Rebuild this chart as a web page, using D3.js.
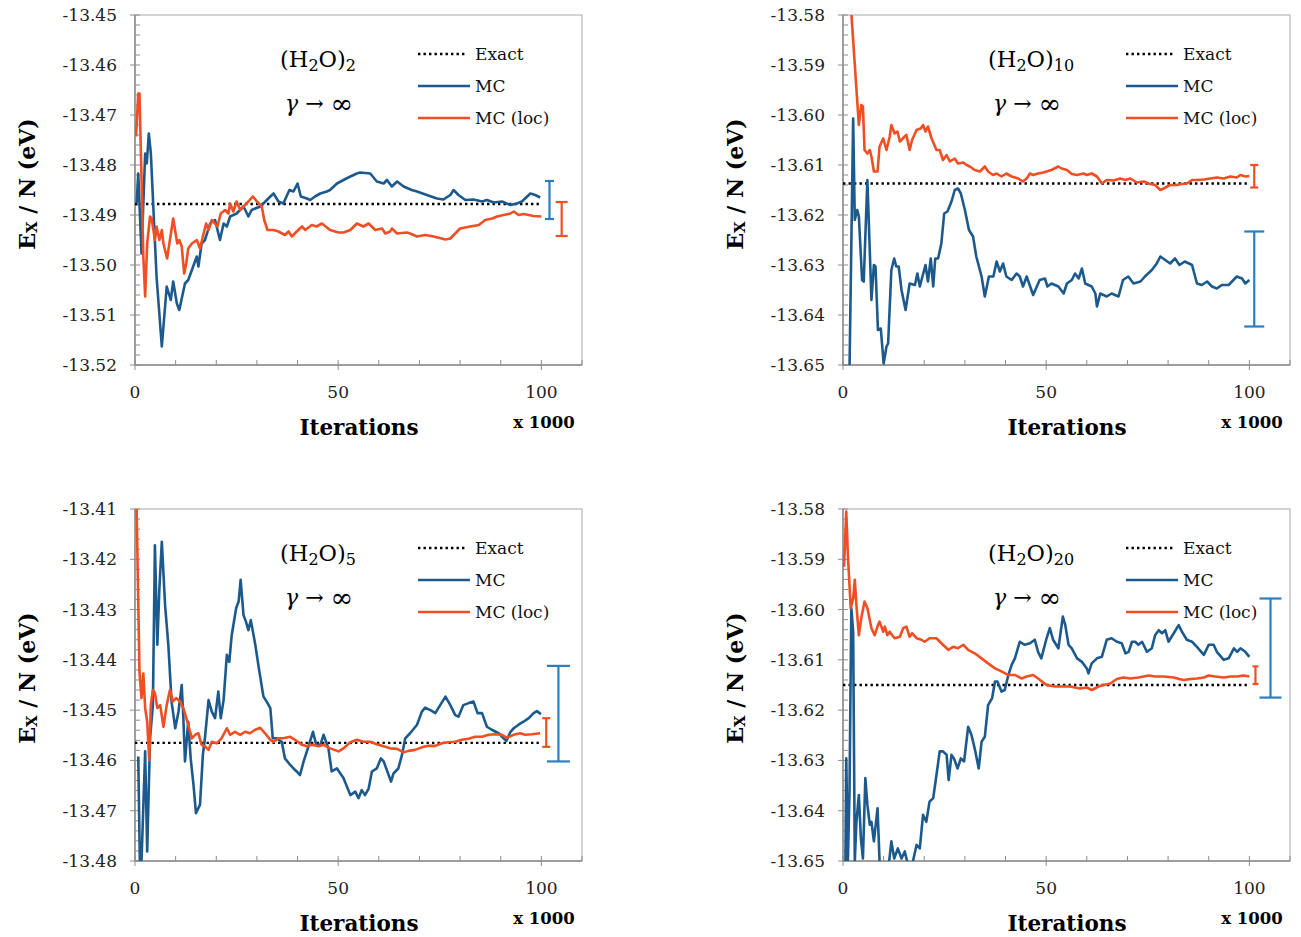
<!DOCTYPE html>
<html><head><meta charset="utf-8">
<script src="https://cdn.jsdelivr.net/npm/d3@7"></script>
<style>body{margin:0;background:#fff;} svg{display:block;font-family:"DejaVu Serif",serif;}</style>
</head><body><svg id="c" width="1301" height="937"></svg>
<script>
// ---------------- DATA ----------------
const xTickLabels = [0, 50, 100];
const xMinorTicks = [0,10,20,30,40,50,60,70,80,90,100,110];
const legendLabels = ["Exact", "MC", "MC (loc)"];
const clusterSizes = ["2", "10", "5", "20"];

const yRange2 = [-13.52, -13.45];
const yRange10 = [-13.65, -13.58];
const yRange5 = [-13.48, -13.41];
const yRange20 = [-13.65, -13.58];

const exactValues = [-13.4878, -13.6137, -13.4565, -13.6150];

// error bars: [x, low, high]
const errMC = [[102, -13.4908, -13.4832],[101.2, -13.6423, -13.6233],[104.2, -13.4602, -13.4412],[105.2, -13.6175, -13.5978]];
const errLoc = [[105, -13.4942, -13.4874],[101.2, -13.6145, -13.6100],[101.2, -13.4573, -13.4516],[101.5, -13.6148, -13.6113]];

const mc2 = [[0.4,-13.4877],[0.8,-13.4817],[1.6,-13.4977],[2.5,-13.4777],[2.9,-13.4797],[3.4,-13.4737],[3.9,-13.4777],[5.3,-13.5023],[6.6,-13.5163],[7.8,-13.5043],[8.8,-13.5070],[9.4,-13.5033],[10.3,-13.5077],[10.9,-13.5090],[12.3,-13.5037],[13.1,-13.5030],[14.0,-13.5010],[15.2,-13.4983],[15.6,-13.5003],[16.4,-13.4957],[17.2,-13.4950],[18.5,-13.4917],[19.7,-13.4910],[20.9,-13.4950],[21.8,-13.4917],[22.6,-13.4923],[23.4,-13.4903],[25.0,-13.4897],[26.7,-13.4883],[27.9,-13.4903],[28.7,-13.4890],[30.8,-13.4883],[31.6,-13.4877],[33.3,-13.4863],[34.1,-13.4857],[35.3,-13.4873],[36.5,-13.4877],[38.0,-13.4850],[39.0,-13.4853],[40.0,-13.4837],[40.8,-13.4863],[42.3,-13.4867],[43.1,-13.4870],[44.3,-13.4863],[45.6,-13.4857],[47.2,-13.4853],[48.0,-13.4850],[49.7,-13.4837],[51.3,-13.4830],[53.0,-13.4823],[54.6,-13.4817],[55.4,-13.4815],[57.9,-13.4817],[59.5,-13.4833],[61.2,-13.4837],[62.0,-13.4830],[63.2,-13.4843],[64.5,-13.4833],[66.1,-13.4843],[68.1,-13.4850],[69.4,-13.4853],[71.8,-13.4860],[74.3,-13.4867],[75.9,-13.4869],[77.6,-13.4860],[78.4,-13.4850],[79.6,-13.4860],[81.3,-13.4870],[83.3,-13.4869],[85.4,-13.4873],[86.6,-13.4870],[88.3,-13.4875],[90.3,-13.4873],[92.4,-13.4880],[94.0,-13.4877],[95.2,-13.4873],[97.3,-13.4857],[98.5,-13.4860],[99.7,-13.4865]];

const loc2 = [[0.25,-13.4743],[0.8,-13.4657],[1.1,-13.4657],[1.4,-13.4757],[2.05,-13.4983],[2.5,-13.5063],[3.0,-13.4957],[3.7,-13.4903],[4.1,-13.4907],[4.9,-13.4950],[5.3,-13.4923],[6.0,-13.4950],[6.6,-13.4930],[7.0,-13.4957],[7.9,-13.4987],[9.4,-13.4907],[10.4,-13.4957],[10.9,-13.4950],[11.5,-13.4963],[12.1,-13.5017],[12.6,-13.4997],[13.1,-13.4967],[14.0,-13.4957],[15.2,-13.4950],[16.0,-13.4967],[16.7,-13.4943],[17.5,-13.4917],[18.1,-13.4930],[18.9,-13.4910],[20.3,-13.4923],[21.1,-13.4897],[22.2,-13.4890],[23.0,-13.4897],[23.4,-13.4877],[24.2,-13.4893],[25.0,-13.4873],[25.9,-13.4890],[26.7,-13.4883],[27.9,-13.4873],[29.0,-13.4863],[30.0,-13.4873],[31.2,-13.4883],[31.8,-13.4910],[32.6,-13.4930],[34.1,-13.4930],[35.3,-13.4933],[36.9,-13.4940],[37.8,-13.4933],[38.6,-13.4943],[39.8,-13.4933],[41.1,-13.4923],[41.9,-13.4930],[43.5,-13.4920],[44.7,-13.4923],[46.0,-13.4917],[48.0,-13.4930],[50.1,-13.4935],[51.3,-13.4935],[53.0,-13.4930],[54.6,-13.4917],[56.2,-13.4923],[57.5,-13.4917],[59.1,-13.4930],[60.8,-13.4927],[61.6,-13.4937],[62.8,-13.4933],[63.2,-13.4927],[64.5,-13.4937],[66.9,-13.4935],[67.7,-13.4937],[69.4,-13.4943],[71.4,-13.4940],[73.5,-13.4943],[76.4,-13.4949],[77.6,-13.4947],[78.8,-13.4937],[80.0,-13.4927],[82.5,-13.4923],[84.6,-13.4920],[86.2,-13.4910],[87.9,-13.4907],[89.1,-13.4903],[90.7,-13.4900],[92.4,-13.4897],[93.2,-13.4893],[94.4,-13.4900],[95.6,-13.4898],[96.9,-13.4900],[98.1,-13.4902],[100.0,-13.4903]];

const mc10 = [[1.6,-13.6510],[2.5,-13.6007],[2.9,-13.6210],[3.5,-13.6190],[3.9,-13.6203],[4.7,-13.6330],[5.1,-13.6333],[6.0,-13.6130],[7.0,-13.6370],[7.6,-13.6300],[8.0,-13.6303],[8.6,-13.6430],[9.3,-13.6427],[10.0,-13.6497],[10.7,-13.6463],[11.1,-13.6457],[11.9,-13.6310],[12.6,-13.6287],[13.1,-13.6303],[13.7,-13.6303],[14.4,-13.6350],[15.4,-13.6390],[16.4,-13.6337],[17.7,-13.6340],[18.3,-13.6317],[18.9,-13.6343],[20.3,-13.6300],[20.9,-13.6333],[21.6,-13.6287],[22.2,-13.6343],[22.7,-13.6287],[23.4,-13.6287],[24.2,-13.6257],[24.9,-13.6197],[25.7,-13.6193],[26.7,-13.6173],[27.5,-13.6150],[28.3,-13.6147],[29.0,-13.6157],[30.0,-13.6190],[31.0,-13.6230],[32.0,-13.6243],[32.8,-13.6283],[34.1,-13.6323],[34.9,-13.6363],[35.9,-13.6323],[37.0,-13.6323],[37.8,-13.6293],[38.6,-13.6313],[39.4,-13.6297],[40.2,-13.6323],[41.5,-13.6330],[42.7,-13.6317],[43.5,-13.6323],[44.3,-13.6343],[45.2,-13.6323],[46.8,-13.6360],[48.4,-13.6330],[49.7,-13.6327],[50.3,-13.6343],[51.3,-13.6337],[53.0,-13.6343],[54.3,-13.6357],[55.1,-13.6337],[56.3,-13.6330],[57.1,-13.6317],[58.0,-13.6327],[58.8,-13.6307],[59.6,-13.6337],[61.2,-13.6343],[62.1,-13.6357],[62.5,-13.6383],[63.3,-13.6357],[64.9,-13.6363],[66.1,-13.6357],[67.8,-13.6363],[68.9,-13.6330],[70.2,-13.6323],[71.5,-13.6337],[73.2,-13.6333],[74.3,-13.6323],[76.0,-13.6310],[77.2,-13.6297],[78.1,-13.6283],[79.3,-13.6290],[80.5,-13.6297],[81.7,-13.6287],[82.8,-13.6300],[84.1,-13.6293],[85.9,-13.6300],[87.1,-13.6337],[88.3,-13.6340],[89.6,-13.6333],[90.8,-13.6343],[92.0,-13.6347],[93.2,-13.6340],[94.9,-13.6340],[96.9,-13.6323],[98.2,-13.6327],[99.0,-13.6337],[100.0,-13.6330]];

const loc10 = [[2.0,-13.5790],[3.9,-13.6020],[4.5,-13.5980],[4.9,-13.5983],[5.3,-13.6070],[6.0,-13.6077],[6.6,-13.6070],[7.0,-13.6083],[7.6,-13.6113],[8.5,-13.6113],[9.0,-13.6063],[9.9,-13.6047],[10.7,-13.6070],[11.5,-13.6043],[11.9,-13.6020],[12.7,-13.6037],[13.4,-13.6033],[14.0,-13.6053],[15.2,-13.6043],[15.6,-13.6040],[16.4,-13.6070],[17.0,-13.6050],[18.1,-13.6030],[19.1,-13.6027],[19.7,-13.6020],[20.3,-13.6033],[20.9,-13.6023],[21.8,-13.6047],[23.0,-13.6070],[23.8,-13.6070],[24.6,-13.6090],[25.5,-13.6080],[26.3,-13.6093],[27.5,-13.6087],[28.3,-13.6097],[29.6,-13.6095],[30.4,-13.6100],[31.2,-13.6103],[32.4,-13.6110],[33.7,-13.6113],[34.9,-13.6103],[35.7,-13.6113],[36.9,-13.6120],[37.8,-13.6117],[39.0,-13.6123],[40.2,-13.6117],[41.5,-13.6123],[43.1,-13.6127],[44.3,-13.6133],[45.2,-13.6127],[46.0,-13.6117],[46.8,-13.6120],[48.0,-13.6117],[49.3,-13.6115],[51.3,-13.6110],[53.0,-13.6103],[53.8,-13.6107],[55.1,-13.6110],[56.3,-13.6118],[57.6,-13.6120],[59.2,-13.6117],[60.0,-13.6120],[61.2,-13.6117],[62.5,-13.6123],[63.7,-13.6137],[64.9,-13.6130],[66.6,-13.6131],[68.2,-13.6127],[69.5,-13.6130],[70.7,-13.6127],[72.3,-13.6135],[74.0,-13.6133],[75.6,-13.6138],[76.8,-13.6140],[78.1,-13.6150],[78.9,-13.6147],[80.5,-13.6140],[82.2,-13.6140],[83.4,-13.6138],[84.6,-13.6137],[85.9,-13.6130],[87.1,-13.6130],[88.8,-13.6129],[90.4,-13.6127],[92.0,-13.6125],[93.7,-13.6127],[95.3,-13.6123],[96.9,-13.6125],[97.8,-13.6120],[99.0,-13.6123],[100.0,-13.6122]];

const mc5 = [[0.8,-13.4592],[1.2,-13.4808],[1.6,-13.4801],[2.5,-13.4582],[3.0,-13.4781],[3.7,-13.4556],[4.4,-13.4490],[4.9,-13.4172],[5.5,-13.4370],[6.0,-13.4258],[6.6,-13.4165],[7.4,-13.4291],[8.2,-13.4370],[9.0,-13.4483],[9.9,-13.4536],[10.7,-13.4503],[11.5,-13.4450],[11.9,-13.4516],[12.3,-13.4602],[13.1,-13.4523],[13.7,-13.4596],[14.4,-13.4649],[15.0,-13.4705],[16.0,-13.4688],[16.7,-13.4589],[17.2,-13.4556],[18.1,-13.4480],[18.9,-13.4503],[19.7,-13.4516],[20.5,-13.4463],[21.1,-13.4516],[21.8,-13.4480],[22.6,-13.4390],[23.2,-13.4404],[23.8,-13.4351],[24.9,-13.4297],[25.5,-13.4284],[26.0,-13.4241],[26.7,-13.4311],[27.3,-13.4324],[27.9,-13.4341],[28.5,-13.4321],[29.6,-13.4370],[30.6,-13.4423],[31.6,-13.4473],[32.4,-13.4483],[33.3,-13.4496],[33.9,-13.4556],[34.9,-13.4556],[36.1,-13.4563],[36.9,-13.4596],[38.2,-13.4609],[39.0,-13.4616],[39.8,-13.4622],[40.6,-13.4629],[41.5,-13.4602],[42.3,-13.4582],[43.8,-13.4543],[44.6,-13.4569],[45.6,-13.4569],[46.4,-13.4549],[47.6,-13.4576],[48.4,-13.4622],[49.7,-13.4616],[51.3,-13.4635],[53.0,-13.4669],[54.2,-13.4662],[55.0,-13.4675],[55.8,-13.4659],[56.6,-13.4669],[57.5,-13.4656],[58.3,-13.4622],[59.5,-13.4616],[60.5,-13.4596],[61.2,-13.4602],[62.1,-13.4622],[63.0,-13.4642],[63.6,-13.4626],[64.8,-13.4616],[65.7,-13.4589],[66.5,-13.4556],[67.7,-13.4546],[69.4,-13.4529],[70.6,-13.4503],[71.4,-13.4495],[72.7,-13.4500],[73.9,-13.4506],[75.1,-13.4490],[76.4,-13.4473],[77.6,-13.4490],[78.8,-13.4510],[79.6,-13.4513],[80.8,-13.4490],[82.1,-13.4486],[83.3,-13.4483],[84.3,-13.4506],[85.4,-13.4506],[86.6,-13.4533],[87.8,-13.4539],[89.5,-13.4546],[90.7,-13.4556],[91.4,-13.4561],[92.4,-13.4543],[93.2,-13.4536],[94.4,-13.4529],[95.6,-13.4523],[96.9,-13.4516],[98.1,-13.4506],[98.9,-13.4502],[99.9,-13.4508]];

const loc5 = [[0.4,-13.4100],[1.1,-13.4423],[1.6,-13.4476],[2.05,-13.4427],[2.5,-13.4496],[3.0,-13.4523],[3.5,-13.4599],[3.9,-13.4490],[4.4,-13.4460],[4.9,-13.4466],[5.5,-13.4496],[6.2,-13.4490],[7.0,-13.4533],[7.8,-13.4490],[8.6,-13.4460],[9.3,-13.4483],[10.1,-13.4476],[11.1,-13.4483],[11.9,-13.4496],[13.1,-13.4529],[14.0,-13.4556],[14.8,-13.4549],[15.6,-13.4546],[16.4,-13.4569],[17.2,-13.4572],[18.1,-13.4579],[18.9,-13.4563],[20.1,-13.4566],[21.3,-13.4556],[22.6,-13.4536],[23.4,-13.4549],[24.6,-13.4543],[25.9,-13.4549],[27.1,-13.4543],[28.3,-13.4546],[29.6,-13.4539],[30.8,-13.4535],[32.0,-13.4546],[33.3,-13.4559],[34.1,-13.4563],[35.3,-13.4556],[36.5,-13.4556],[38.2,-13.4553],[39.4,-13.4559],[41.1,-13.4569],[42.3,-13.4572],[43.5,-13.4569],[45.2,-13.4572],[46.4,-13.4569],[48.0,-13.4576],[50.1,-13.4582],[51.3,-13.4576],[53.0,-13.4564],[54.6,-13.4559],[56.2,-13.4563],[57.9,-13.4563],[59.5,-13.4568],[61.2,-13.4572],[62.8,-13.4576],[64.5,-13.4577],[66.1,-13.4584],[67.3,-13.4581],[68.9,-13.4579],[70.6,-13.4574],[72.2,-13.4571],[73.9,-13.4571],[75.5,-13.4566],[77.1,-13.4564],[78.8,-13.4563],[80.4,-13.4559],[82.1,-13.4557],[83.7,-13.4553],[85.4,-13.4553],[87.0,-13.4549],[88.7,-13.4548],[90.3,-13.4549],[91.5,-13.4555],[93.2,-13.4549],[94.8,-13.4546],[96.0,-13.4549],[97.7,-13.4548],[99.7,-13.4546]];

const mc20 = [[0.6,-13.6501],[0.8,-13.6296],[1.2,-13.6501],[1.6,-13.6362],[2.05,-13.5997],[2.5,-13.6044],[2.9,-13.6501],[3.3,-13.6422],[3.9,-13.6369],[4.4,-13.6455],[4.9,-13.6495],[5.5,-13.6335],[6.0,-13.6388],[6.6,-13.6428],[7.0,-13.6422],[7.6,-13.6461],[8.5,-13.6395],[9.0,-13.6501],[9.9,-13.6514],[11.1,-13.6520],[11.9,-13.6461],[12.6,-13.6495],[13.5,-13.6475],[14.4,-13.6495],[15.2,-13.6481],[16.0,-13.6508],[17.2,-13.6501],[18.1,-13.6468],[18.9,-13.6475],[19.7,-13.6408],[20.5,-13.6422],[21.3,-13.6382],[22.2,-13.6375],[23.0,-13.6329],[23.8,-13.6282],[24.6,-13.6282],[25.5,-13.6289],[26.0,-13.6339],[26.7,-13.6289],[27.3,-13.6296],[28.2,-13.6316],[29.0,-13.6296],[29.8,-13.6302],[30.8,-13.6233],[31.6,-13.6249],[32.4,-13.6276],[33.4,-13.6316],[34.1,-13.6263],[34.9,-13.6253],[35.7,-13.6190],[36.7,-13.6176],[37.4,-13.6143],[38.0,-13.6143],[39.0,-13.6163],[39.8,-13.6160],[40.6,-13.6133],[41.5,-13.6110],[42.3,-13.6097],[43.5,-13.6064],[44.7,-13.6070],[46.0,-13.6067],[47.2,-13.6060],[48.0,-13.6084],[48.8,-13.6097],[50.1,-13.6057],[50.9,-13.6037],[51.7,-13.6060],[53.0,-13.6077],[54.1,-13.6014],[54.7,-13.6031],[55.5,-13.6070],[56.3,-13.6077],[57.6,-13.6097],[58.8,-13.6104],[60.0,-13.6117],[60.4,-13.6127],[61.2,-13.6107],[62.5,-13.6097],[63.7,-13.6094],[64.9,-13.6060],[66.1,-13.6057],[67.4,-13.6064],[68.6,-13.6067],[69.5,-13.6087],[70.3,-13.6084],[71.1,-13.6064],[71.9,-13.6064],[72.7,-13.6070],[73.6,-13.6064],[74.8,-13.6084],[76.0,-13.6077],[76.8,-13.6051],[77.7,-13.6041],[78.5,-13.6047],[79.3,-13.6041],[80.1,-13.6064],[81.4,-13.6047],[82.6,-13.6031],[83.4,-13.6044],[84.6,-13.6060],[85.9,-13.6064],[87.1,-13.6074],[88.8,-13.6090],[90.0,-13.6070],[91.2,-13.6070],[92.0,-13.6084],[93.7,-13.6100],[94.9,-13.6097],[96.2,-13.6077],[97.0,-13.6084],[97.8,-13.6077],[99.0,-13.6084],[100.0,-13.6094]];

const loc20 = [[0.25,-13.5915],[0.8,-13.5805],[1.2,-13.5891],[1.9,-13.5997],[2.5,-13.5978],[2.9,-13.5941],[3.3,-13.5991],[3.9,-13.6051],[4.5,-13.6017],[5.3,-13.5984],[6.0,-13.5997],[7.0,-13.6037],[7.8,-13.6051],[8.6,-13.6031],[9.0,-13.6024],[9.9,-13.6044],[10.3,-13.6034],[10.9,-13.6051],[11.5,-13.6044],[12.1,-13.6051],[12.7,-13.6057],[14.0,-13.6054],[14.8,-13.6037],[15.6,-13.6034],[16.4,-13.6054],[17.0,-13.6047],[18.1,-13.6057],[19.3,-13.6060],[20.1,-13.6064],[21.3,-13.6057],[23.0,-13.6057],[24.2,-13.6067],[25.9,-13.6080],[27.1,-13.6074],[28.3,-13.6077],[29.6,-13.6070],[30.8,-13.6080],[32.4,-13.6087],[34.1,-13.6097],[35.7,-13.6107],[37.4,-13.6117],[39.0,-13.6123],[40.6,-13.6130],[42.3,-13.6130],[43.9,-13.6137],[45.2,-13.6133],[46.8,-13.6130],[48.0,-13.6137],[50.1,-13.6150],[52.1,-13.6153],[53.4,-13.6153],[55.9,-13.6153],[58.3,-13.6157],[60.0,-13.6155],[61.2,-13.6160],[62.9,-13.6153],[64.1,-13.6150],[65.8,-13.6147],[67.4,-13.6138],[69.0,-13.6135],[70.7,-13.6137],[72.7,-13.6135],[74.0,-13.6133],[75.2,-13.6131],[76.8,-13.6133],[78.9,-13.6133],[81.4,-13.6135],[82.7,-13.6138],[83.9,-13.6140],[85.5,-13.6138],[87.1,-13.6137],[88.8,-13.6135],[90.0,-13.6131],[91.6,-13.6133],[93.7,-13.6135],[95.3,-13.6133],[96.9,-13.6133],[98.6,-13.6131],[100.0,-13.6133]];

// ---------------- LAYOUT / STYLE ----------------
const layout = [
  {left:135, right:582, top:15, bottom:365, capMC:4.5, capLoc:6},
  {left:843, right:1290, top:15, bottom:365, capMC:10, capLoc:4},
  {left:135, right:582, top:509, bottom:861, capMC:11.5, capLoc:4},
  {left:843, right:1290, top:509, bottom:861, capMC:11, capLoc:3}
];
const COL_MC = "#1c5a8e", COL_LOC = "#f04e23", COL_ERR_MC = "#2a7fc1", AX = "#8c8c8c";
const LW = 2.6;
const seriesMC = [mc2, mc10, mc5, mc20];
const seriesLoc = [loc2, loc10, loc5, loc20];
const yRanges = [yRange2, yRange10, yRange5, yRange20];

const svg = d3.select("#c");
const fmt = d => d.toFixed(2);

layout.forEach((L, i) => {
  const g = svg.append("g");
  const x = d3.scaleLinear().domain([0, 110]).range([L.left, L.right]);
  const y = d3.scaleLinear().domain(yRanges[i]).range([L.bottom, L.top]);
  const clipId = "clip" + i;
  svg.append("clipPath").attr("id", clipId).append("rect")
    .attr("x", L.left).attr("y", L.top).attr("width", L.right - L.left).attr("height", L.bottom - L.top);

  // frame
  g.append("rect").attr("x", L.left).attr("y", L.top).attr("width", L.right - L.left).attr("height", L.bottom - L.top)
    .attr("fill", "#fff").attr("stroke", "#b8b8b8").attr("stroke-width", 1.2);

  // y axis
  const yMajor = d3.range(0, 8).map(k => yRanges[i][1] - k * 0.01);
  const yMinor = d3.range(0, 36).map(k => yRanges[i][1] - k * 0.002);
  g.append("line").attr("x1", L.left).attr("x2", L.left).attr("y1", L.top).attr("y2", L.bottom).attr("stroke", AX).attr("stroke-width", 1.5);
  g.selectAll(".ymin").data(yMinor).enter().append("line")
    .attr("x1", L.left).attr("x2", L.left + 5).attr("y1", d => y(d)).attr("y2", d => y(d)).attr("stroke", AX).attr("stroke-width", 1);
  g.selectAll(".ymaj").data(yMajor).enter().append("line")
    .attr("x1", L.left - 5).attr("x2", L.left).attr("y1", d => y(d)).attr("y2", d => y(d)).attr("stroke", AX).attr("stroke-width", 1);
  g.selectAll(".ylab").data(yMajor).enter().append("text")
    .attr("x", L.left - 18).attr("y", d => y(d)).attr("text-anchor", "end").attr("dominant-baseline", "central")
    .attr("font-size", 17).attr("fill", "#222").text(d => fmt(d));

  // x axis
  g.append("line").attr("x1", L.left).attr("x2", L.right).attr("y1", L.bottom).attr("y2", L.bottom).attr("stroke", AX).attr("stroke-width", 1.5);
  g.selectAll(".xmin").data(xMinorTicks).enter().append("line")
    .attr("x1", d => x(d)).attr("x2", d => x(d)).attr("y1", L.bottom - 5).attr("y2", L.bottom).attr("stroke", AX).attr("stroke-width", 1);
  g.selectAll(".xmaj").data(xTickLabels).enter().append("line")
    .attr("x1", d => x(d)).attr("x2", d => x(d)).attr("y1", L.bottom).attr("y2", L.bottom + 5).attr("stroke", AX).attr("stroke-width", 1);
  g.selectAll(".xlab").data(xTickLabels).enter().append("text")
    .attr("x", d => x(d)).attr("y", L.bottom + 27).attr("text-anchor", "middle").attr("dominant-baseline", "central")
    .attr("font-size", 17).attr("fill", "#222").text(d => d);

  g.append("text").attr("x", L.left + 224).attr("y", L.bottom + 62).attr("text-anchor", "middle").attr("dominant-baseline", "central")
    .attr("font-size", 21.5).attr("font-weight", "bold").text("Iterations");
  g.append("text").attr("x", L.left + 409).attr("y", L.bottom + 57).attr("text-anchor", "middle").attr("dominant-baseline", "central")
    .attr("font-size", 16.5).attr("font-weight", "bold").text("x 1000");

  // y title
  const yt = g.append("text").attr("transform", `translate(${L.left - 108},${L.top + 169}) rotate(-90)`)
    .attr("text-anchor", "middle").attr("dominant-baseline", "central").attr("font-size", 22).attr("font-weight", "bold");
  yt.append("tspan").text("E");
  yt.append("tspan").attr("font-size", 15).attr("dy", 5).text("X");
  yt.append("tspan").attr("dy", -5).text(" / N (eV)");

  // series
  const line = d3.line().x(d => x(d[0])).y(d => y(d[1]));
  const pg = g.append("g").attr("clip-path", `url(#${clipId})`);
  pg.append("line").attr("x1", x(0)).attr("x2", x(100)).attr("y1", y(exactValues[i])).attr("y2", y(exactValues[i]))
    .attr("stroke", "#000").attr("stroke-width", 2.4).attr("stroke-dasharray", "2.4,3.1");
  pg.append("path").datum(seriesMC[i]).attr("d", line).attr("fill", "none").attr("stroke", COL_MC).attr("stroke-width", LW).attr("stroke-linejoin", "round");
  pg.append("path").datum(seriesLoc[i]).attr("d", line).attr("fill", "none").attr("stroke", COL_LOC).attr("stroke-width", LW).attr("stroke-linejoin", "round");

  // error bars
  const drawErr = (e, col, cap) => {
    const eg = g.append("g").attr("stroke", col).attr("stroke-width", 2.2);
    eg.append("line").attr("x1", x(e[0])).attr("x2", x(e[0])).attr("y1", y(e[1])).attr("y2", y(e[2]));
    eg.append("line").attr("x1", x(e[0]) - cap).attr("x2", x(e[0]) + cap).attr("y1", y(e[1])).attr("y2", y(e[1]));
    eg.append("line").attr("x1", x(e[0]) - cap).attr("x2", x(e[0]) + cap).attr("y1", y(e[2])).attr("y2", y(e[2]));
  };
  drawErr(errMC[i], COL_ERR_MC, L.capMC);
  drawErr(errLoc[i], COL_LOC, L.capLoc);

  // annotation
  const an = g.append("text").attr("x", L.left + 145).attr("y", L.top + 44).attr("dominant-baseline", "central").attr("font-size", 22.5);
  an.append("tspan").text("(H");
  an.append("tspan").attr("font-size", 16).attr("dy", 6).text("2");
  an.append("tspan").attr("dy", -6).text("O)");
  an.append("tspan").attr("font-size", 16).attr("dy", 6).text(clusterSizes[i]);
  const gm = g.append("text").attr("x", L.left + 150).attr("y", L.top + 88).attr("dominant-baseline", "central").attr("font-size", 22);
  gm.append("tspan").attr("font-style", "italic").text("γ");
  gm.append("tspan").text(" → ");
  gm.append("tspan").attr("font-size", 27).text("∞");

  // legend
  const ly = [39, 71, 103];
  const lg = g.append("g");
  lg.append("line").attr("x1", L.left + 283).attr("x2", L.left + 331).attr("y1", L.top + ly[0]).attr("y2", L.top + ly[0])
    .attr("stroke", "#000").attr("stroke-width", 2.4).attr("stroke-dasharray", "2.4,3.1");
  lg.append("line").attr("x1", L.left + 283).attr("x2", L.left + 335).attr("y1", L.top + ly[1]).attr("y2", L.top + ly[1])
    .attr("stroke", COL_MC).attr("stroke-width", LW);
  lg.append("line").attr("x1", L.left + 283).attr("x2", L.left + 335).attr("y1", L.top + ly[2]).attr("y2", L.top + ly[2])
    .attr("stroke", COL_LOC).attr("stroke-width", LW);
  legendLabels.forEach((t, k) => {
    lg.append("text").attr("x", L.left + 340).attr("y", L.top + ly[k]).attr("dominant-baseline", "central")
      .attr("font-size", 17).attr("fill", "#111").text(t);
  });
});
</script>
</body></html>
